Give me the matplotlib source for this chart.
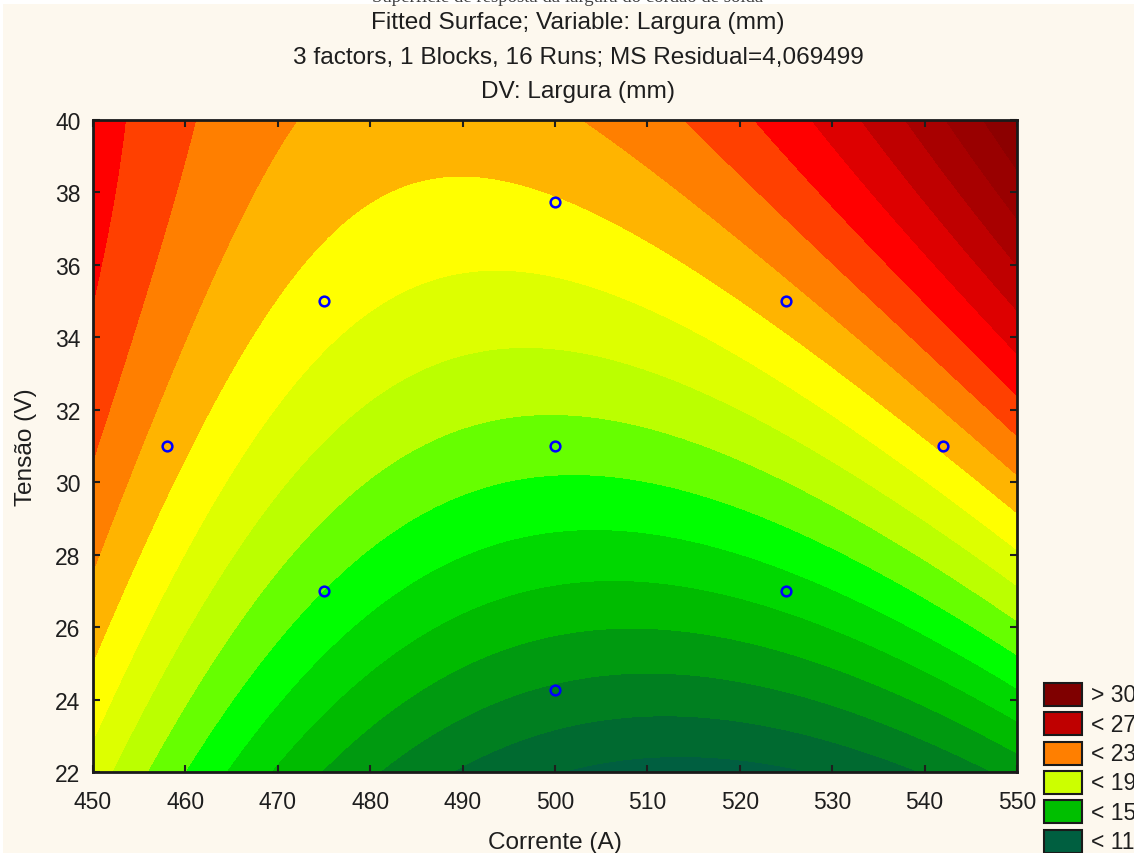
import numpy as np
import matplotlib.pyplot as plt
from matplotlib.patches import Rectangle

plt.rcParams['font.family'] = ['Liberation Sans', 'DejaVu Sans']

# fitted quadratic model, coded units u=(I-500)/25, v=(U-31)/4
b0, b1, b2 = 17.49, -0.093, 2.394
b11, b22, b12 = 1.359, -0.209, 0.643

# design points (Corrente, Tensao)
corrente_pts = [458, 475, 475, 500, 500, 500, 525, 525, 542]
tensao_pts = [31, 35, 27, 37.73, 31, 24.27, 35, 27, 31]

levels = [0, 11, 12, 13, 14, 15, 16, 17, 18, 19, 20,
          21, 22, 23, 24, 25, 26, 27, 28, 29, 30, 60]
band_colors = ['#005f40', '#006a30', '#007f20', '#009a10', '#00bb00',
               '#00d800', '#00ff00', '#66ff00', '#bbff00', '#ddff00',
               '#ffff00', '#ffb400', '#ff7f00', '#ff4000', '#ff0000',
               '#dd0000', '#bf0000', '#a80000', '#990000', '#8c0000',
               '#7f0000']

legend_labels = ['> 30', '< 27', '< 23', '< 19', '< 15', '< 11']
legend_colors = ['#7f0000', '#bf0000', '#ff7f00', '#ccff00', '#00bf00', '#005f40']

x = np.linspace(450, 550, 500)
y = np.linspace(22, 40, 500)
X, Y = np.meshgrid(x, y)
u = (X - 500) / 25
v = (Y - 31) / 4
Z = b0 + b1 * u + b2 * v + b11 * u ** 2 + b22 * v ** 2 + b12 * u * v

bg = '#fdf8ee'
txt = '#1e1e1e'
fs_title = 17.6
fs = 16.5
fig = plt.figure(figsize=(11.34, 8.54), dpi=100, facecolor='white')
fig.patches.append(Rectangle((3 / 1134, 0), 1, 1 - 5 / 854, transform=fig.transFigure,
                             facecolor=bg, edgecolor='none', zorder=-10))

ax = fig.add_axes([93 / 1134, 1 - 773 / 854, 924 / 1134, 652 / 854])
ax.contourf(X, Y, Z, levels=levels, colors=band_colors, antialiased=False)
ax.plot(corrente_pts, tensao_pts, 'o', ms=7, mfc='none', mec='#0000ff', mew=1.8)

ax.set_xlim(450, 550)
ax.set_ylim(22, 40)
ax.set_xticks(np.arange(450, 551, 10))
ax.set_yticks(np.arange(22, 41, 2))
ax.tick_params(direction='in', length=5, width=1.5, top=True, right=True,
               labelsize=fs, colors=txt)
ax.tick_params(axis='x', pad=13)
ax.tick_params(axis='y', pad=9)
for s in ax.spines.values():
    s.set_linewidth(2)
    s.set_color('#1a1a1a')
ax.set_xlabel('Corrente (A)', fontsize=fs_title, color=txt, labelpad=13)
ax.set_ylabel('Tensão (V)', fontsize=fs_title, color=txt, labelpad=13)

# headers
fig.text(568 / 1134, 1 - 2.5 / 854, 'Superfície de resposta da largura do cordão de solda',
         ha='center', va='baseline', fontsize=13.5, family='Liberation Serif', color='#404040')
fig.text(578 / 1134, 1 - 23 / 854, 'Fitted Surface; Variable: Largura (mm)',
         ha='center', va='center', fontsize=fs_title, color=txt)
fig.text(578 / 1134, 1 - 58 / 854, '3 factors, 1 Blocks, 16 Runs; MS Residual=4,069499',
         ha='center', va='center', fontsize=fs_title, color=txt)
fig.text(578 / 1134, 1 - 92 / 854, 'DV: Largura (mm)',
         ha='center', va='center', fontsize=fs_title, color=txt)

# legend
for i, (lab, col) in enumerate(zip(legend_labels, legend_colors)):
    top = 684 + i * 29.3
    fig.patches.append(Rectangle((1044 / 1134, 1 - (top + 23) / 854), 38 / 1134, 23 / 854,
                                 transform=fig.transFigure, facecolor=col,
                                 edgecolor='#1a1a1a', lw=1.5))
    fig.text(1091 / 1134, 1 - (top + 12) / 854, lab, ha='left', va='center',
             fontsize=fs, color=txt)

fig.savefig('out.png', dpi=100, facecolor='white')
